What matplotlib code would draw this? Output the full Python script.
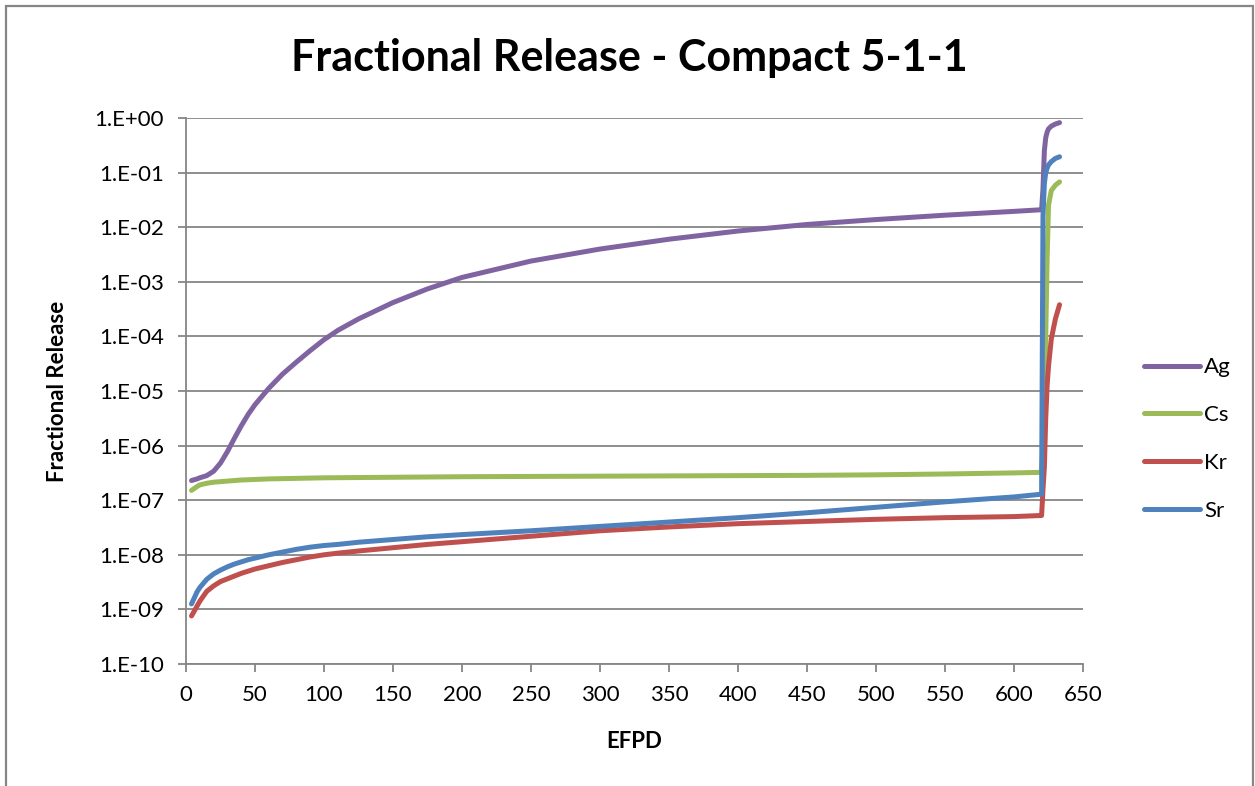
import matplotlib
matplotlib.use("Agg")
import matplotlib.pyplot as plt
import numpy as np
from matplotlib.patches import Rectangle
from matplotlib.lines import Line2D
from matplotlib.ticker import FixedLocator, FuncFormatter, NullLocator

plt.rcParams['font.family'] = ['Lato', 'DejaVu Sans']

# Effective full power days
efpd = [4, 8, 10, 15, 20, 25, 30, 35, 40, 45, 50, 60, 70, 80, 90, 100, 110, 125,
        150, 175, 200, 250, 300, 350, 400, 450, 500, 550, 600, 620, 621, 622,
        623, 624, 625, 627, 630, 633]

# log10 of fractional release per nuclide
ag_log10 = [-6.64, -6.61, -6.59, -6.55, -6.47, -6.32, -6.11, -5.87, -5.64, -5.43,
            -5.25, -4.95, -4.69, -4.47, -4.26, -4.06, -3.89, -3.68, -3.38, -3.13,
            -2.92, -2.62, -2.40, -2.22, -2.07, -1.95, -1.86, -1.78, -1.71, -1.68,
            -1.30, -0.60, -0.36, -0.26, -0.20, -0.15, -0.11, -0.085]
cs_log10 = [-6.82, -6.75, -6.72, -6.69, -6.67, -6.66, -6.65, -6.64, -6.63, -6.625,
            -6.62, -6.61, -6.605, -6.60, -6.595, -6.59, -6.588, -6.585, -6.58, -6.575,
            -6.57, -6.565, -6.56, -6.555, -6.55, -6.545, -6.535, -6.52, -6.50, -6.49,
            -6.00, -5.40, -4.00, -2.60, -1.60, -1.33, -1.23, -1.17]
kr_log10 = [-9.12, -8.94, -8.85, -8.67, -8.57, -8.49, -8.44, -8.39, -8.34, -8.30,
            -8.26, -8.20, -8.14, -8.09, -8.04, -8.00, -7.97, -7.93, -7.87, -7.81,
            -7.76, -7.66, -7.56, -7.49, -7.43, -7.39, -7.35, -7.32, -7.30, -7.28,
            -6.80, -6.40, -5.50, -4.90, -4.55, -4.05, -3.68, -3.42]
sr_log10 = [-8.90, -8.68, -8.60, -8.45, -8.35, -8.28, -8.22, -8.17, -8.13, -8.09,
            -8.06, -8.00, -7.95, -7.90, -7.86, -7.83, -7.81, -7.77, -7.72, -7.67,
            -7.63, -7.56, -7.48, -7.40, -7.32, -7.23, -7.13, -7.03, -6.94, -6.89,
            -1.80, -1.20, -1.00, -0.92, -0.86, -0.80, -0.74, -0.71]

series_names = ["Ag", "Cs", "Kr", "Sr"]
series_colors = ["#8064A2", "#9BBB59", "#C0504D", "#4F81BD"]

x_ticks = list(range(0, 651, 50))
y_exponents = list(range(0, -11, -1))

W, H = 1255, 786
fig = plt.figure(figsize=(W / 100, H / 100), dpi=100)
fig.patch.set_facecolor("white")

# outer chart frame
fig.patches.append(Rectangle((6 / W, -0.05), (1253 - 6) / W, 1 - 6 / H + 0.05,
                             transform=fig.transFigure, fill=False,
                             edgecolor="#868686", linewidth=1.6, clip_on=False))

left, right, top, bottom = 186, 1083, 118, 664
ax = fig.add_axes([left / W, 1 - bottom / H, (right - left) / W, (bottom - top) / H])

grid_c = "#868686"
for name, color, vals in zip(series_names, series_colors,
                             [ag_log10, cs_log10, kr_log10, sr_log10]):
    ax.plot(efpd, np.power(10.0, vals), color=color, lw=3.6,
            solid_capstyle="round", solid_joinstyle="round", label=name, zorder=3)

ax.set_yscale("log")
ax.set_xlim(0, 650)
ax.set_ylim(1e-10, 1)
ax.xaxis.set_major_locator(FixedLocator(x_ticks))
ax.yaxis.set_major_locator(FixedLocator([10.0 ** e for e in y_exponents]))
ax.yaxis.set_minor_locator(NullLocator())
ax.yaxis.set_major_formatter(FuncFormatter(
    lambda v, p: "1.E{:+03d}".format(int(round(np.log10(v))))))

ax.grid(axis="y", color=grid_c, lw=1.3, zorder=0)
for s in ["top", "right"]:
    ax.spines[s].set_visible(False)
for s in ["left", "bottom"]:
    ax.spines[s].set_color(grid_c)
    ax.spines[s].set_linewidth(1.3)
ax.tick_params(axis="both", which="major", direction="out", length=6,
               width=1.3, color=grid_c, labelsize=16, labelcolor="black")
ax.tick_params(axis="x", pad=9)
ax.tick_params(axis="y", pad=10)

ax.set_xlabel("EFPD", fontsize=16, fontweight="bold")
ax.set_ylabel("Fractional Release", fontsize=16, fontweight="bold")
ax.xaxis.set_label_coords(0.5, -(741 - 664) / (bottom - top), transform=ax.transAxes)
ax.yaxis.set_label_coords(-(left - 58) / (right - left), 0.5, transform=ax.transAxes)
ax.xaxis.label.set_va("center")
ax.yaxis.label.set_va("center")

fig.text(629 / W, 1 - 58 / H, "Fractional Release - Compact 5-1-1",
         ha="center", va="center", fontsize=31, fontweight="bold")

handles = [Line2D([0], [0], color=c, lw=3.6, solid_capstyle="round")
           for c in series_colors]
fig.legend(handles, series_names, loc="center left",
           bbox_to_anchor=(1133 / W, 1 - 439 / H), frameon=False,
           fontsize=16, handlelength=2.5, handletextpad=0.2, labelspacing=1.25,
           borderpad=0.0)

fig.savefig("out.png", dpi=100)
